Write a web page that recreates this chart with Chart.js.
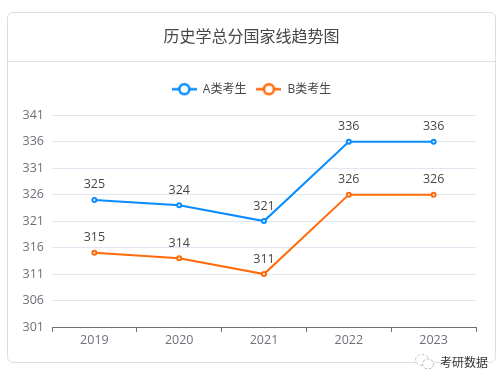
<!DOCTYPE html>
<html>
<head>
<meta charset="utf-8">
<script src="https://cdn.jsdelivr.net/npm/chart.js@4/dist/chart.umd.min.js"></script>
<style>
  html, body { margin: 0; padding: 0; background: #fff; overflow: hidden; }
  #wrap { position: relative; width: 503px; height: 384px; }
  #card { position: absolute; left: 7px; top: 12px; width: 487px; height: 349px; border: 1px solid #dcdfe2; border-radius: 6px; }
  #sep { position: absolute; left: 8px; top: 61px; width: 487px; height: 1px; background: #dfe2e5; }
  #grafico { position: absolute; left: 0; top: 0; }
  #marca { position: absolute; left: 414px; top: 352px; width: 80px; height: 20px; font: 12px "Noto Sans CJK SC"; line-height: 20px; color: #333; text-shadow: 0 0 2px #fff, 0 0 2px #fff, 0 0 3px #fff; white-space: nowrap; }
  #marca svg { position: absolute; left: 0; top: 0; }
  #marca span { position: absolute; left: 26px; top: 0; }
</style>
</head>
<body>
<div id="wrap">
  <div id="card"></div>
  <div id="sep"></div>
  <canvas id="grafico" width="503" height="384"></canvas>
  <div id="marca">
    <svg width="24" height="20" viewBox="0 0 24 20">
      <ellipse cx="8" cy="8" rx="6.5" ry="5.5" fill="#fff" stroke="#bbb" stroke-width="0.8" stroke-dasharray="3 1.5"/>
      <ellipse cx="14" cy="12" rx="5.5" ry="5" fill="#fff" stroke="#aaa" stroke-width="0.8" stroke-dasharray="3 1.5"/>
    </svg>
    <span>考研数据</span>
  </div>
</div>
<script>
const titulo = "历史学总分国家线趋势图";
const anos = ["2019", "2020", "2021", "2022", "2023"];
const nomeA = "A类考生";
const nomeB = "B类考生";
const valoresA = [325, 324, 321, 336, 336];
const valoresB = [315, 314, 311, 326, 326];
const corA = "#0a8cff";
const corB = "#ff6a0a";
const fonte = '"Open Sans", "Noto Sans CJK SC", sans-serif';

// icone da legenda: linha com circulo no meio
function iconeLegenda(cor) {
  const c = document.createElement("canvas");
  c.width = 25;
  c.height = 14;
  const g = c.getContext("2d");
  g.strokeStyle = cor;
  g.lineWidth = 2.5;
  g.beginPath();
  g.moveTo(0, 7);
  g.lineTo(25, 7);
  g.stroke();
  g.fillStyle = "#fff";
  g.beginPath();
  g.arc(12.5, 7, 5, 0, Math.PI * 2);
  g.fill();
  g.stroke();
  return c;
}

// espaco extra abaixo da legenda
const margemLegenda = {
  id: "margemLegenda",
  beforeInit(chart) {
    const fit = chart.legend.fit;
    chart.legend.fit = function () {
      fit.bind(chart.legend)();
      this.height += 10;
    };
  }
};

// rotulos de valor acima dos pontos
const rotulos = {
  id: "rotulos",
  afterDatasetsDraw(chart) {
    const ctx = chart.ctx;
    ctx.save();
    ctx.font = "12.5px " + fonte;
    ctx.fillStyle = "#464646";
    ctx.textAlign = "center";
    ctx.textBaseline = "middle";
    chart.data.datasets.forEach((ds, i) => {
      chart.getDatasetMeta(i).data.forEach((p, j) => {
        ctx.fillText(ds.data[j], p.x, p.y - 15);
      });
    });
    ctx.restore();
  }
};

new Chart(document.getElementById("grafico"), {
  type: "line",
  data: {
    labels: anos,
    datasets: [
      { label: nomeA, data: valoresA, borderColor: corA, backgroundColor: "#fff", borderWidth: 2, tension: 0, pointRadius: 2, pointBorderWidth: 2, pointBorderColor: corA, pointBackgroundColor: "#fff" },
      { label: nomeB, data: valoresB, borderColor: corB, backgroundColor: "#fff", borderWidth: 2, tension: 0, pointRadius: 2, pointBorderWidth: 2, pointBorderColor: corB, pointBackgroundColor: "#fff" }
    ]
  },
  options: {
    responsive: false,
    animation: false,
    layout: { padding: { top: 28, right: 0, bottom: 35, left: 0 } },
    scales: {
      x: {
        offset: true,
        grid: { drawOnChartArea: false, drawTicks: true, tickLength: 5, tickColor: "#6e7079", offset: true },
        border: { color: "#6e7079", width: 1 },
        ticks: { color: "#6e7079", font: { family: fonte, size: 12.5 }, padding: 1 }
      },
      y: {
        min: 301,
        max: 341,
        afterFit(eixo) { eixo.width = 52; },
        grid: { color: "#e0e6f1", drawTicks: false },
        border: { display: false },
        ticks: { stepSize: 5, color: "#6e7079", font: { family: fonte, size: 12.5 }, padding: 8 }
      },
      // eixo vazio a direita, so para reservar a margem e manter titulo e legenda centrados
      margemDir: {
        position: "right",
        min: 301,
        max: 341,
        afterFit(eixo) { eixo.width = 27; },
        grid: { drawOnChartArea: false, drawTicks: false },
        border: { display: false },
        ticks: { display: false }
      }
    },
    plugins: {
      title: { display: true, text: titulo, color: "#464646", font: { family: fonte, size: 16, weight: "normal" }, padding: { top: 0, bottom: 26 } },
      legend: {
        position: "top",
        labels: {
          usePointStyle: true,
          pointStyleWidth: 25,
          color: "#464646",
          font: { family: fonte, size: 12 },
          padding: 10,
          generateLabels(chart) {
            return chart.data.datasets.map((ds, i) => ({
              text: ds.label,
              fontColor: "#464646",
              pointStyle: iconeLegenda(ds.borderColor),
              datasetIndex: i,
              lineWidth: 0
            }));
          }
        }
      },
      tooltip: { enabled: false }
    }
  },
  plugins: [margemLegenda, rotulos]
});
</script>
</body>
</html>
